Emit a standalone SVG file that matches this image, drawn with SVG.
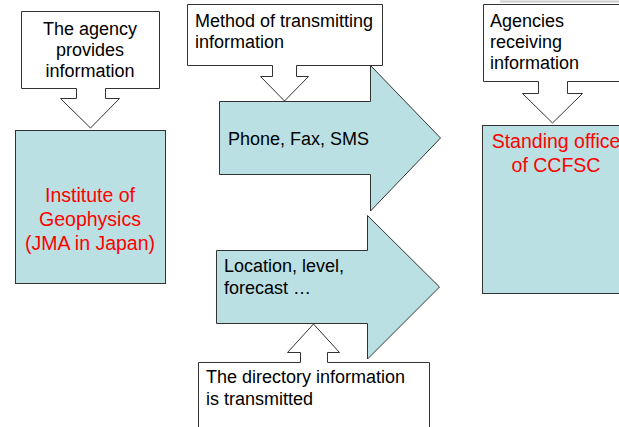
<svg xmlns="http://www.w3.org/2000/svg" width="619" height="427" viewBox="0 0 619 427">
<style>
.co{fill:#ffffff;stroke:#333333;stroke-width:1}
.bl{fill:#bbe0e3;stroke:#333333;stroke-width:1}
.t{font-family:"Liberation Sans",Arial,sans-serif;font-size:18px;fill:#000000}
.r{font-family:"Liberation Sans",Arial,sans-serif;font-size:19.5px;fill:#ff0000}
</style>
<rect x="0" y="0" width="619" height="427" fill="#ffffff"/>
<line x1="500" y1="1.5" x2="619" y2="1.5" stroke="#cccccc" stroke-width="2"/>
<g id="institute">
<rect class="bl" x="15.5" y="130.5" width="150" height="153"/>
<text class="r" text-anchor="middle"><tspan x="90" y="202">Institute of</tspan><tspan x="90" y="226">Geophysics</tspan><tspan x="90" y="250">(JMA in Japan)</tspan></text>
</g>
<g id="agency-callout">
<path class="co" d="M21.5,11.5 H159.5 V88.5 H105.5 V98.5 H119.5 L90.5,128 L60.5,98.5 H76.5 V88.5 H21.5 Z"/>
<text class="t" text-anchor="middle"><tspan x="90" y="35">The agency</tspan><tspan x="90" y="56">provides</tspan><tspan x="90" y="77">information</tspan></text>
</g>
<g id="standing-office">
<rect class="bl" x="482.5" y="125.5" width="150" height="168"/>
<text class="r" text-anchor="middle"><tspan x="556" y="148">Standing office</tspan><tspan x="556" y="172">of CCFSC</tspan></text>
</g>
<g id="receiving-callout">
<path class="co" d="M483.5,4.5 H630 V81.5 H567.5 V93.5 H582.5 L552.5,123 L522.5,93.5 H538.5 V81.5 H483.5 Z"/>
<text class="t"><tspan x="490" y="27">Agencies</tspan><tspan x="490" y="48">receiving</tspan><tspan x="490" y="69">information</tspan></text>
</g>
<g id="method-callout">
<path class="co" d="M187.5,4.5 H382.5 V65.5 H296.5 V76.5 H308.5 L284.5,101 L260.5,76.5 H272.5 V65.5 H187.5 Z"/>
<text class="t"><tspan x="195" y="27">Method of transmitting</tspan><tspan x="195" y="48">information</tspan></text>
</g>
<g id="phone-arrow">
<path class="bl" d="M219.5,101.5 H370.5 V65.5 L440.5,138 L370.5,211 V174.5 H219.5 Z"/>
<text class="t" x="228" y="145">Phone, Fax, SMS</text>
</g>
<g id="location-arrow">
<path class="bl" d="M216.5,250.5 H367.5 V215.5 L439.5,287 L367.5,359 V323.5 H216.5 Z"/>
<text class="t"><tspan x="224" y="272">Location, level,</tspan><tspan x="224" y="294">forecast …</tspan></text>
</g>
<g id="directory-callout">
<path class="co" d="M198.5,440 V362.5 H300.5 V352.5 H287.5 L313.5,324 L339.5,352.5 H327.5 V362.5 H429.5 V440 Z"/>
<text class="t"><tspan x="206" y="383">The directory information</tspan><tspan x="206" y="405">is transmitted</tspan></text>
</g>
<g id="connectors"></g>
</svg>
